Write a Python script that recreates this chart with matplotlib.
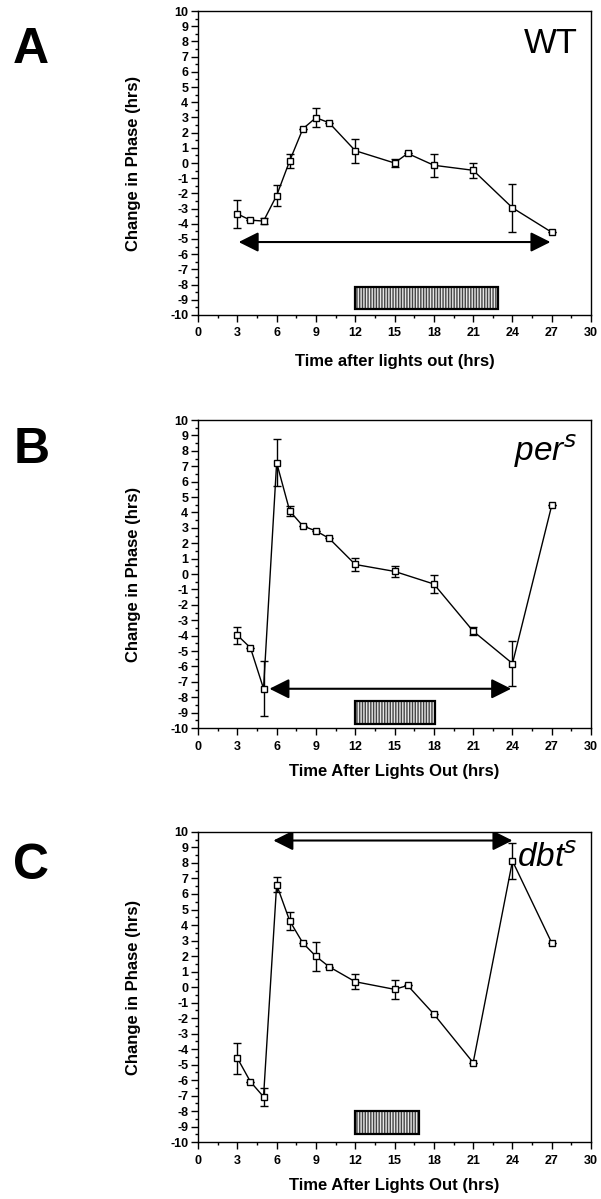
import matplotlib
matplotlib.use('Agg')
import matplotlib.pyplot as plt
from matplotlib.patches import Rectangle, FancyArrowPatch
from matplotlib.ticker import MultipleLocator

plt.rcParams['font.family'] = ['Liberation Sans', 'DejaVu Sans']
plt.rcParams['axes.unicode_minus'] = False

# panel A: wild type
wt_time = [3, 4, 5, 6, 7, 8, 9, 10, 12, 15, 16, 18, 21, 24, 27]
wt_shift = [-3.35, -3.76, -3.82, -2.14, 0.15, 2.25, 2.98, 2.65, 0.81, 0.0, 0.63, -0.15, -0.48, -2.95, -4.56]
wt_err = [0.9, 0, 0.2, 0.7, 0.45, 0, 0.63, 0, 0.78, 0.28, 0, 0.77, 0.5, 1.6, 0]

# panel B: per-s
pers_time = [3, 4, 5, 6, 7, 8, 9, 10, 12, 15, 18, 21, 24, 27]
pers_shift = [-3.97, -4.79, -7.44, 7.23, 4.09, 3.12, 2.8, 2.32, 0.62, 0.17, -0.65, -3.71, -5.81, 4.47]
pers_err = [0.55, 0, 1.8, 1.53, 0.33, 0, 0, 0, 0.42, 0.38, 0.58, 0.27, 1.43, 0]

# panel C: dbt-s
dbts_time = [3, 4, 5, 6, 7, 8, 9, 10, 12, 15, 16, 18, 21, 24, 27]
dbts_shift = [-4.58, -6.11, -7.08, 6.6, 4.26, 2.84, 1.98, 1.31, 0.34, -0.15, 0.1, -1.75, -4.88, 8.13, 2.84]
dbts_err = [1.0, 0, 0.57, 0.5, 0.58, 0, 0.93, 0, 0.5, 0.6, 0, 0, 0, 1.15, 0]

# arrows (x0, x1, y) and light-pulse bars (x0, x1, y0, y1)
arrows = [(3.1, 26.9, -5.2), (5.45, 23.9, -7.45), (5.75, 24.0, 9.45)]
bars = [(12, 22.9, -9.6, -8.15), (12, 18.1, -9.75, -8.25), (12, 16.85, -9.45, -7.97)]

labels = ['WT', 'per$^{s}$', 'dbt$^{s}$']
xlabels = ['Time after lights out (hrs)', 'Time After Lights Out (hrs)', 'Time After Lights Out (hrs)']
letters = ['A', 'B', 'C']

fig = plt.figure(figsize=(6.01, 11.99), dpi=100)
axes_pos = [[0.3295, 0.7373, 0.654, 0.2535],
            [0.3295, 0.3928, 0.654, 0.2569],
            [0.3295, 0.0475, 0.654, 0.2586]]
letter_y = [0.958, 0.625, 0.278]
xlabel_off = [-0.128, -0.118, -0.116]
label_y = [0.948, 0.96, 0.965]

series = [(wt_time, wt_shift, wt_err), (pers_time, pers_shift, pers_err), (dbts_time, dbts_shift, dbts_err)]

for i, (t, s, e) in enumerate(series):
    ax = fig.add_axes(axes_pos[i])
    ax.errorbar(t, s, yerr=e, color='black', lw=1, elinewidth=1, capsize=3, capthick=1,
                marker='s', ms=4.5, mfc='white', mec='black', mew=1, zorder=3)
    ax.set_xlim(0, 30)
    ax.set_ylim(-10, 10)
    ax.xaxis.set_major_locator(MultipleLocator(3))
    ax.xaxis.set_minor_locator(MultipleLocator(1.5))
    ax.yaxis.set_major_locator(MultipleLocator(1))
    ax.yaxis.set_minor_locator(MultipleLocator(0.5))
    ax.tick_params(which='major', direction='out', length=5, width=1, labelsize=9, pad=2)
    ax.tick_params(axis='x', which='major', pad=4)
    ax.tick_params(which='minor', direction='out', length=2.5, width=1)
    for lab in ax.get_xticklabels() + ax.get_yticklabels():
        lab.set_fontweight('bold')
    for sp in ax.spines.values():
        sp.set_linewidth(1)
    ax.set_ylabel('Change in Phase (hrs)', fontsize=12, fontweight='bold')
    ax.yaxis.set_label_coords(-0.145, 0.5)
    ax.set_xlabel(xlabels[i], fontsize=12, fontweight='bold')
    ax.xaxis.set_label_coords(0.5, xlabel_off[i])

    x0, x1, y = arrows[i]
    arr = FancyArrowPatch((x0, y), (x1, y), arrowstyle='<|-|>,head_length=12,head_width=6',
                          mutation_scale=1, color='black', lw=1.5, shrinkA=0, shrinkB=0, zorder=4)
    ax.add_patch(arr)

    bx0, bx1, by0, by1 = bars[i]
    ax.add_patch(Rectangle((bx0, by0), bx1 - bx0, by1 - by0, facecolor='#e6e6e6',
                           edgecolor='#444444', hatch='||||||', lw=0, zorder=2))
    ax.add_patch(Rectangle((bx0, by0), bx1 - bx0, by1 - by0, facecolor='none',
                           edgecolor='black', lw=1.6, zorder=2))

    ax.text(0.965, label_y[i], labels[i], transform=ax.transAxes, ha='right', va='top',
            fontsize=25 if i == 0 else 24, style='italic' if i else 'normal')
    fig.text(0.052, letter_y[i], letters[i], fontsize=36, fontweight='bold', ha='center', va='center')

fig.savefig('out.png', dpi=100)
